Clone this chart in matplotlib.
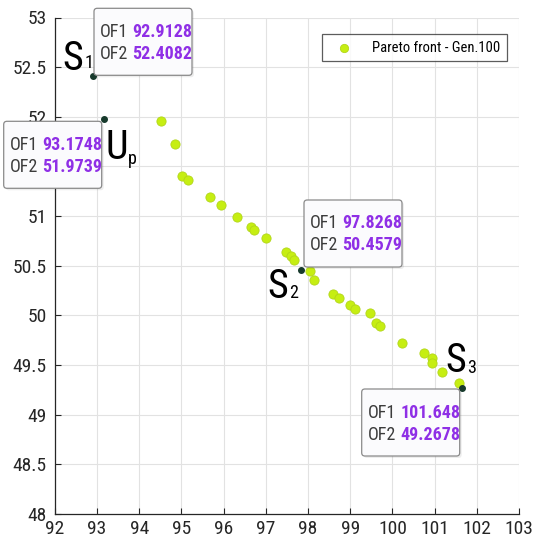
import matplotlib
matplotlib.use('Agg')
import matplotlib.pyplot as plt
from matplotlib.patches import FancyBboxPatch

plt.rcParams['font.family'] = ['Roboto Condensed', 'PT Sans Narrow', 'Liberation Sans', 'DejaVu Sans']

# Pareto front points (OF1, OF2)
of1 = [94.51, 94.85, 95.01, 95.15, 95.68, 95.93, 96.32, 96.65, 96.72, 97.01,
       97.47, 97.59, 97.68, 98.05, 98.14, 98.60, 98.74, 99.00, 99.11, 99.47,
       99.61, 99.71, 100.22, 100.75, 100.93, 100.95, 101.17, 101.59]
of2 = [51.96, 51.73, 51.40, 51.36, 51.19, 51.11, 50.99, 50.89, 50.86, 50.78,
       50.64, 50.60, 50.56, 50.45, 50.36, 50.22, 50.18, 50.10, 50.06, 50.02,
       49.92, 49.89, 49.72, 49.62, 49.57, 49.52, 49.43, 49.32]

# marked solutions
mark_names = ['S', 'U', 'S', 'S']
mark_subs = ['1', 'p', '2', '3']
mark_of1 = [92.9128, 93.1748, 97.8268, 101.648]
mark_of2 = [52.4082, 51.9739, 50.4579, 49.2678]

xticks = list(range(92, 104))
yticks = [48, 48.5, 49, 49.5, 50, 50.5, 51, 51.5, 52, 52.5, 53]
# 51.5 sits under the Up data tip in the original, so it is not shown
ylabels = ['48', '48.5', '49', '49.5', '50', '50.5', '51', '', '52', '52.5', '53']

W, H = 533, 542
fig = plt.figure(figsize=(W / 100, H / 100), dpi=100)

def fx(px):
    return px / W

def fy(py):
    return 1 - py / H

ax = fig.add_axes([fx(54.8), fy(514), fx(519) - fx(54.8), fy(17.5) - fy(514)])

green = '#c6ee12'
ax.scatter(of1, of2, s=44, c=green, edgecolors='#b2d61a', linewidths=0.6,
           zorder=3, label='Pareto front - Gen.100')
ax.scatter(mark_of1, mark_of2, s=16, c='#173a2c', zorder=4)

ax.set_xlim(92, 103)
ax.set_ylim(48, 53)
ax.set_xticks(xticks)
ax.set_yticks(yticks)
ax.set_xticklabels([str(t) for t in xticks])
ax.set_yticklabels(ylabels)
ax.grid(True, color='#e2e2e2', linewidth=0.8)
ax.set_axisbelow(True)
for side in ['top', 'right']:
    ax.spines[side].set_visible(False)
for side in ['left', 'bottom']:
    ax.spines[side].set_color('#262626')
    ax.spines[side].set_linewidth(0.9)
ax.tick_params(direction='in', length=4, width=0.8, colors='#262626',
               labelsize=14)
ax.tick_params(axis='y', pad=6)
ax.tick_params(axis='x', pad=4)

leg = ax.legend(loc='upper right', bbox_to_anchor=(fx(507), fy(34)),
                bbox_transform=fig.transFigure, fancybox=False,
                edgecolor='#333333', fontsize=10.5, handletextpad=0.8,
                borderpad=0.45, handlelength=2.2, borderaxespad=0,
                markerscale=0.9)
leg.get_frame().set_linewidth(0.9)

# S / U labels (left, baseline in pixels)
label_pos = [(62, 70), (106, 159), (267, 298), (445, 372)]
sub_pos = [(85, 68), (128, 164), (289, 298), (467, 373)]
for name, sub, (lx, ly), (sx, sy) in zip(mark_names, mark_subs, label_pos, sub_pos):
    fig.text(fx(lx), fy(ly), name, fontsize=29, va='baseline', ha='left')
    fig.text(fx(sx), fy(sy), sub, fontsize=13, va='baseline', ha='left')

# data tips (box left, top in pixels)
box_pos = [(94, 8.3), (3.7, 121.3), (304, 200), (361.7, 389)]
bw, bh = 98, 67
for (bx, by), v1, v2 in zip(box_pos, mark_of1, mark_of2):
    shadow = FancyBboxPatch((fx(bx + 2), fy(by + bh + 2)), bw / W, bh / H,
                            boxstyle='round,pad=0,rounding_size=0.006',
                            transform=fig.transFigure, facecolor='black',
                            edgecolor='none', alpha=0.07)
    box = FancyBboxPatch((fx(bx), fy(by + bh)), bw / W, bh / H,
                         boxstyle='round,pad=0,rounding_size=0.006',
                         transform=fig.transFigure, facecolor='#fbfbfd',
                         edgecolor='#8a8a8a', linewidth=0.9)
    fig.patches.extend([shadow, box])
    for k, (nm, v) in enumerate([('OF1', v1), ('OF2', v2)]):
        ty = by + 23.5 + 22 * k
        fig.text(fx(bx + 6), fy(ty), nm, fontsize=13, color='#3c3c3c',
                 va='center', ha='left')
        fig.text(fx(bx + 38.5), fy(ty), f'{v:.6g}', fontsize=13,
                 color='#8f2fe6', fontweight='bold', va='center', ha='left')

fig.savefig('out.png', dpi=100)
